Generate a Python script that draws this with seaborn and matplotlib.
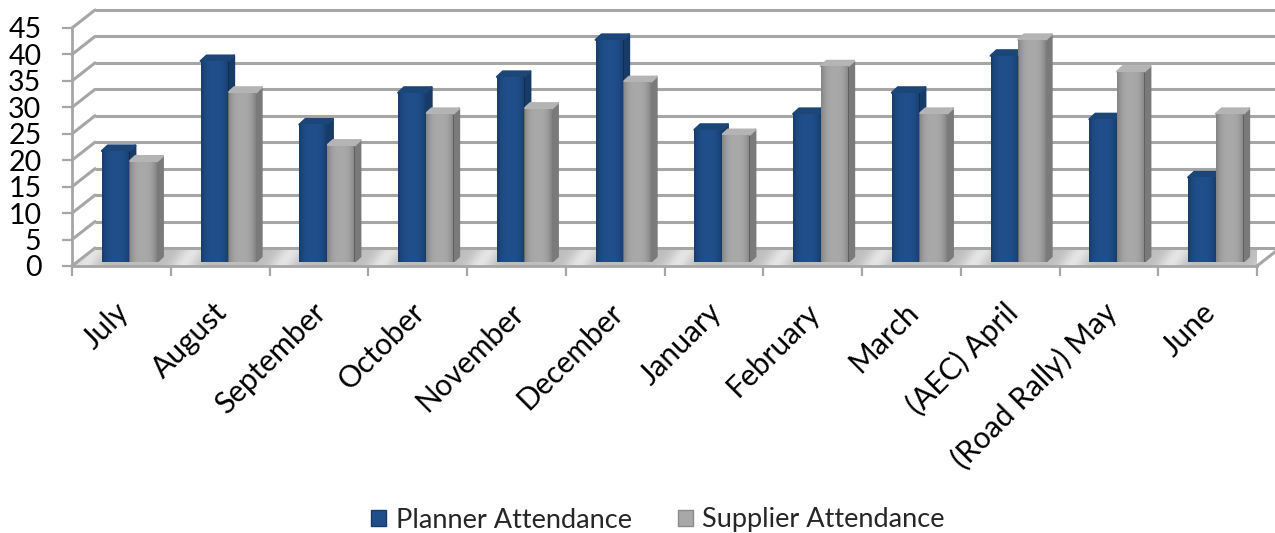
from matplotlib import pyplot as plt
from matplotlib.patches import Patch, Polygon
import numpy as np
import seaborn as sns
import pandas as pd

months = ['July', 'August', 'September', 'October', 'November', 'December',
          'January', 'February', 'March', '(AEC) April', '(Road Rally) May', 'June']
planner = [21, 38, 26, 32, 35, 42, 25, 28, 32, 39, 27, 16]
supplier = [19, 32, 22, 28, 29, 34, 24, 37, 28, 42, 36, 28]
y_ticks = [0, 5, 10, 15, 20, 25, 30, 35, 40, 45]

W, H = 1275, 533
BLUE, GREY = '#1F4E8A', '#A8A8A8'
BLUE_SIDE, GREY_SIDE = '#173A66', '#7A7A7A'
BLUE_TOP, GREY_TOP = '#1C4578', '#B4B4B4'
WALL = '#A6A6A6'

sns.set_style('white')
plt.rcParams['font.family'] = ['Lato', 'DejaVu Sans']

long_df = pd.DataFrame({
    'Month': months * 2,
    'Attendance': planner + supplier,
    'Series': ['Planner Attendance'] * 12 + ['Supplier Attendance'] * 12,
})

fig = plt.figure(figsize=(W / 100, H / 100), dpi=100)


def box(left, top, right, bottom):
    # pixel box (measured from top left) to figure fractions
    return [left / W, 1 - bottom / H, (right - left) / W, (bottom - top) / H]


# the front plane of the chart, holds the ticks and labels
ax = fig.add_axes(box(72, 28, 1257, 266))
ax.set_xlim(0, 12)
ax.set_ylim(0, 45)
x_px = 12 / (1257 - 72)
y_px = 45 / (266 - 28)
DX, DY = 23 * x_px, 18 * y_px  # depth of the box

# floor with diagonal shiny streaks between the bar groups
floor = Polygon([(0, 0), (12, 0), (12 + DX, DY), (DX, DY)], closed=True,
                transform=ax.transData, facecolor='#BEBEBE', edgecolor='none', zorder=1)
ax.add_patch(floor)
gx, gy = np.meshgrid(np.linspace(0, 12 + DX, 1200), np.linspace(1, 0, 20))
sheen = 0.5 + 0.5 * np.cos(2 * np.pi * (gx - 0.12 - 0.12 * gy))
sheen_img = np.ones((20, 1200, 4))
sheen_img[..., 3] = 0.6 * sheen ** 6
im = ax.imshow(sheen_img, extent=(0, 12 + DX, 0, DY), aspect='auto', zorder=1.1)
im.set_clip_path(floor)
ax.set_xlim(0, 12)
ax.set_ylim(0, 45)

# back wall grid and left wall diagonals
for v in y_ticks:
    ax.plot([DX, 12 + DX], [v + DY, v + DY], color=WALL, lw=2.2, clip_on=False, zorder=1.2,
            solid_capstyle='butt')
    ax.plot([0, DX], [v, v + DY], color=WALL, lw=2.2, clip_on=False, zorder=1.2)
ax.plot([12, 12 + DX], [0, DY], color=WALL, lw=2.2, clip_on=False, zorder=1.2)

for name in ['top', 'right']:
    ax.spines[name].set_visible(False)
for name in ['left', 'bottom']:
    ax.spines[name].set_color(WALL)
    ax.spines[name].set_linewidth(2)
ax.set_xticks(np.arange(13))
ax.set_xticklabels([''] * 13)
ax.set_yticks(y_ticks)
ax.tick_params(axis='both', length=7, width=1.6, color=WALL, left=True, bottom=True)
ax.tick_params(axis='y', labelsize=20.5, pad=15, labelcolor='black')
ax.set_facecolor('none')

for i, m in enumerate(months):
    ax.annotate(m, xy=(i + 0.5, 0), xycoords='data', xytext=(-7, -32), textcoords='offset pixels',
                rotation=45, ha='right', va='top', rotation_mode='anchor',
                fontsize=21.5, color='black', annotation_clip=False)

# bars sit in a second axes pushed a little back into the box
ax_bars = fig.add_axes(box(80, 24, 1265, 262))
sns.barplot(data=long_df, x='Month', y='Attendance', hue='Series', order=months,
            palette=[BLUE, GREY], width=0.557, gap=0, saturation=1, legend=False, ax=ax_bars)
ax_bars.set_xlim(-0.5, 11.5)
ax_bars.set_ylim(0, 45)
ax_bars.axis('off')
ax_bars.patch.set_visible(False)

bar_dx, bar_dy = 6 * x_px, 5.5 * y_px
shade = np.zeros((1, 40, 4))
shade[..., 3] = 0.22 * np.abs(np.linspace(-1, 1, 40)) ** 3

for n, bar in enumerate(ax_bars.patches):
    x0, x1 = bar.get_x(), bar.get_x() + bar.get_width()
    h = bar.get_height()
    side_c, top_c = (BLUE_SIDE, BLUE_TOP) if n < 12 else (GREY_SIDE, GREY_TOP)
    ax_bars.add_patch(Polygon([(x1, 0), (x1 + bar_dx, bar_dy), (x1 + bar_dx, h + bar_dy), (x1, h)],
                              closed=True, facecolor=side_c, edgecolor=side_c, lw=1.5,
                              joinstyle='round', zorder=2))
    ax_bars.add_patch(Polygon([(x0, h), (x0 + bar_dx, h + bar_dy), (x1 + bar_dx, h + bar_dy), (x1, h)],
                              closed=True, facecolor=top_c, edgecolor=top_c, lw=1.5,
                              joinstyle='round', zorder=2))
    bar.set_edgecolor('none')
    bar.set_zorder(3)
    edge = ax_bars.imshow(shade, extent=(x0, x1, 0, h), aspect='auto', zorder=3.5)
    edge.set_clip_path(bar)
ax_bars.set_xlim(-0.5, 11.5)
ax_bars.set_ylim(0, 45)

handles = [Patch(facecolor=BLUE, edgecolor='#173A66', label='Planner Attendance'),
           Patch(facecolor=GREY, edgecolor='#8A8A8A', label='Supplier Attendance')]
fig.legend(handles=handles, loc='center', bbox_to_anchor=(658 / W, 1 - 520 / H), ncol=2, frameon=False,
           fontsize=19.5, handlelength=0.55, handleheight=0.55, handletextpad=0.35, columnspacing=1.7)

fig.savefig('out.png', dpi=100)
